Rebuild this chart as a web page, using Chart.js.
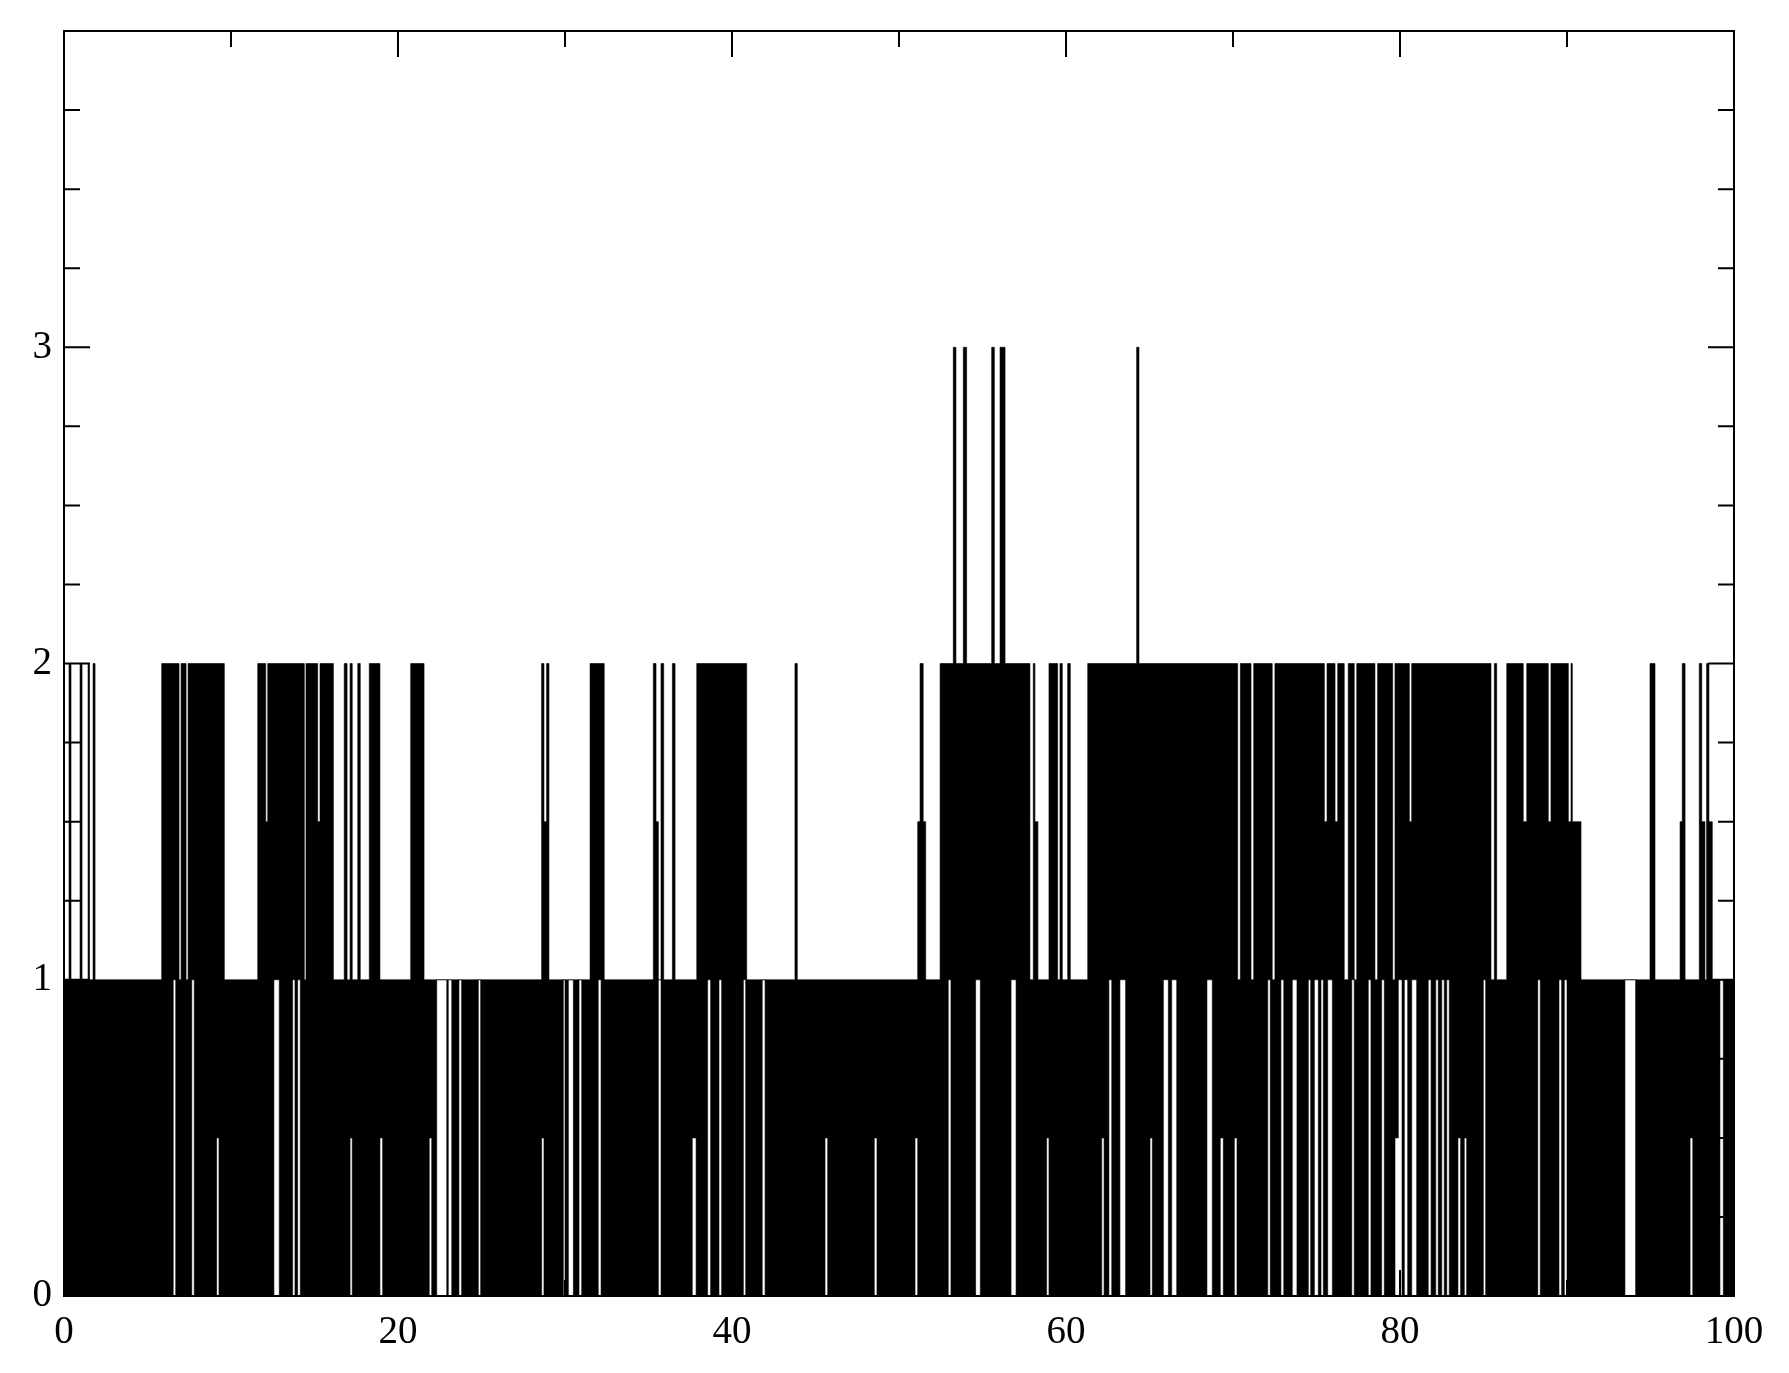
<!DOCTYPE html>
<html>
<head>
<meta charset="utf-8">
<script src="https://cdn.jsdelivr.net/npm/chart.js@4.4.0/dist/chart.umd.min.js"></script>
<style>
  html, body { margin: 0; padding: 0; background: #fff; }
</style>
</head>
<body>
<canvas id="chart" width="1789" height="1373"></canvas>
<script>
// ---------- Data ----------
// Upper edge of the trace: x where a level starts, and the level held until the next x
const upperX = [0, 0.30, 0.42, 0.96, 1.08, 1.44, 1.53, 1.74, 1.86, 5.85, 6.89, 7.01, 7.31, 7.43, 9.60,
  11.60, 12.08, 12.20, 14.39, 14.49, 15.19, 15.33, 16.13, 16.78, 16.95, 17.13, 17.26, 17.59, 17.74,
  18.28, 18.92, 20.76, 21.56, 28.60, 28.74, 28.90, 29.04, 31.50, 32.35, 35.29, 35.45, 35.59, 35.75,
  35.91, 36.43, 36.59, 37.89, 40.88, 43.77, 43.91, 51.12, 51.26, 51.45, 51.60, 52.46, 53.25, 53.41,
  53.85, 54.05, 55.55, 55.71, 56.05, 56.35, 57.84, 58.04, 58.14, 58.32, 58.98, 59.50, 59.64, 59.78,
  60.10, 60.26, 61.30, 64.23, 64.37, 70.28, 70.44, 71.08, 71.24, 72.35, 72.51, 75.47, 75.63, 76.11,
  76.27, 76.66, 76.90, 77.26, 77.41, 78.50, 78.66, 79.56, 79.70, 80.56, 80.70, 85.45, 85.65, 85.79,
  86.39, 87.38, 87.59, 88.88, 89.04, 90.08, 90.24, 90.32, 90.84, 94.97, 95.27, 96.77, 96.90, 97.07,
  97.92, 98.07, 98.26, 98.36, 98.50, 98.70, 100];
const upperY = [1, 2, 1, 2, 1, 2, 1, 2, 1, 2, 1, 2, 1, 2, 1,
  2, 1.5, 2, 1, 2, 1.5, 2, 1, 2, 1, 2, 1, 2, 1,
  2, 1, 2, 1, 2, 1.5, 2, 1, 2, 1, 2, 1.5, 1, 2,
  1, 2, 1, 2, 1, 2, 1, 1.5, 2, 1.5, 1, 2, 3, 2,
  3, 2, 3, 2, 3, 2, 1, 2, 1.5, 1, 2, 1, 2, 1,
  2, 1, 2, 3, 2, 1, 2, 1, 2, 1, 2, 1.5, 2, 1.5,
  2, 1, 2, 1, 2, 1, 2, 1, 2, 1.5, 2, 1, 2, 1,
  2, 1.5, 2, 1.5, 2, 1.5, 2, 1.5, 1, 2, 1, 1.5, 2, 1,
  2, 1.5, 1, 2, 1.5, 1, 1];

// Lower edge of the trace
const lowerX = [0, 6.54, 6.69, 7.65, 7.80, 9.14, 9.28, 12.57, 12.89, 13.69, 13.83, 13.99, 14.15,
  17.13, 17.26, 18.92, 19.08, 21.87, 22.02, 22.32, 22.92, 23.01, 23.22, 23.65, 23.81, 24.81, 24.95,
  28.60, 28.74, 29.90, 30.00, 30.20, 30.50, 30.84, 31.00, 31.99, 32.16, 35.59, 35.75, 37.62, 37.85,
  38.54, 38.72, 39.22, 39.38, 40.68, 40.82, 41.81, 41.98, 45.57, 45.73, 48.52, 48.68, 50.96,
  51.12, 52.95, 53.11, 54.59, 54.87, 56.71, 57.01, 58.84, 58.98, 62.14, 62.28, 62.57, 62.74, 63.23,
  63.57, 65.03, 65.17, 65.83, 66.13, 66.33, 66.63, 68.44, 68.76, 69.24, 69.42, 70.08, 70.24, 72.08,
  72.23, 72.87, 73.04, 73.55, 73.83, 74.51, 74.65, 74.87, 75.11, 75.27, 75.41, 75.67, 75.95, 77.11,
  77.26, 78.10, 78.26, 78.90, 79.06, 79.70, 79.90, 80.12, 80.26, 80.46, 80.70, 81.00, 81.69, 81.86,
  82.14, 82.29, 82.50, 82.65, 82.80, 82.95, 83.47, 83.63, 83.85, 83.99, 84.99, 85.13, 88.25, 88.40,
  89.52, 89.68, 89.84, 90.00, 93.47, 94.11, 97.37, 97.53, 99.16, 99.36, 100];
const lowerY = [0, 1, 0, 1, 0, 0.5, 0, 1, 0, 1, 0, 1, 0,
  0.5, 0, 0.5, 0, 0.5, 0, 1, 0, 1, 0, 1, 0, 1, 0,
  0.5, 0, 1, 0, 1, 0, 1, 0, 1, 0, 1, 0, 0.5, 0,
  1, 0, 1, 0, 1, 0, 1, 0, 0.5, 0, 0.5, 0, 0.5,
  0, 1, 0, 1, 0, 1, 0, 0.5, 0, 0.5, 0, 1, 0, 1,
  0, 0.5, 0, 1, 0, 1, 0, 1, 0, 0.5, 0, 0.5, 0, 1,
  0, 1, 0, 1, 0, 1, 0, 1, 0, 1, 0, 1, 0, 1,
  0, 1, 0, 1, 0, 0.5, 1, 0, 1, 0, 1, 0, 1, 0,
  1, 0, 1, 0, 1, 0, 0.5, 0, 0.5, 0, 1, 0, 1, 0,
  1, 0, 1, 0, 1, 0, 0.5, 0, 1, 0, 0];

// Axes
const xRange = [0, 100];
const yRange = [0, 4];
const xLabelStep = 20;
const xMinorStep = 10;
const yLabelStep = 1;
const yMinorStep = 0.25;
const yHiddenLabels = [4];

const toPoints = (xs, ys) => xs.map((x, i) => ({ x: x, y: ys[i] }));

// ---------- Frame and inward ticks ----------
const frameTicks = {
    id: "frameTicks",
    afterDraw(chart) {
        const { ctx, chartArea: a, scales } = chart;
        ctx.save();
        ctx.strokeStyle = "#000";
        ctx.lineWidth = 2;
        ctx.strokeRect(a.left, a.top, a.right - a.left, a.bottom - a.top);
        ctx.beginPath();
        for (let v = xRange[0]; v <= xRange[1]; v += xMinorStep) {
            const px = scales.x.getPixelForValue(v);
            const len = v % xLabelStep === 0 ? 26 : 16;
            ctx.moveTo(px, a.bottom); ctx.lineTo(px, a.bottom - len);
            ctx.moveTo(px, a.top); ctx.lineTo(px, a.top + len);
        }
        for (let v = yRange[0]; v <= yRange[1]; v += yMinorStep) {
            const py = scales.y.getPixelForValue(v);
            const len = v % yLabelStep === 0 ? 26 : 16;
            ctx.moveTo(a.left, py); ctx.lineTo(a.left + len, py);
            ctx.moveTo(a.right, py); ctx.lineTo(a.right - len, py);
        }
        ctx.stroke();
        ctx.restore();
    }
};

const labelFont = { family: "'Liberation Serif', 'DejaVu Serif', serif", size: 39 };

new Chart(document.getElementById("chart").getContext("2d"), {
    type: "line",
    data: {
        datasets: [
            {
                label: "upper",
                data: toPoints(upperX, upperY),
                stepped: true,
                borderColor: "#000",
                borderWidth: 0.6,
                pointRadius: 0,
                fill: false
            },
            {
                label: "lower",
                data: toPoints(lowerX, lowerY),
                stepped: true,
                borderColor: "#000",
                borderWidth: 0.6,
                pointRadius: 0,
                backgroundColor: "#000",
                fill: "-1"
            }
        ]
    },
    options: {
        responsive: false,
        animation: false,
        layout: { padding: { top: 31, right: 55, left: 0, bottom: 0 } },
        plugins: { legend: { display: false }, tooltip: { enabled: false } },
        scales: {
            x: {
                type: "linear",
                min: xRange[0],
                max: xRange[1],
                grid: { display: false },
                border: { display: false },
                ticks: { stepSize: xLabelStep, color: "#000", font: labelFont, padding: 5, maxRotation: 0 },
                afterFit: (s) => { s.height = 77; }
            },
            y: {
                min: yRange[0],
                max: yRange[1],
                grid: { display: false },
                border: { display: false },
                ticks: {
                    stepSize: yLabelStep,
                    color: "#000",
                    font: labelFont,
                    padding: 4,
                    callback: (v) => yHiddenLabels.includes(v) ? "" : v
                },
                afterFit: (s) => { s.width = 64; }
            }
        }
    },
    plugins: [frameTicks]
});
</script>
</body>
</html>
